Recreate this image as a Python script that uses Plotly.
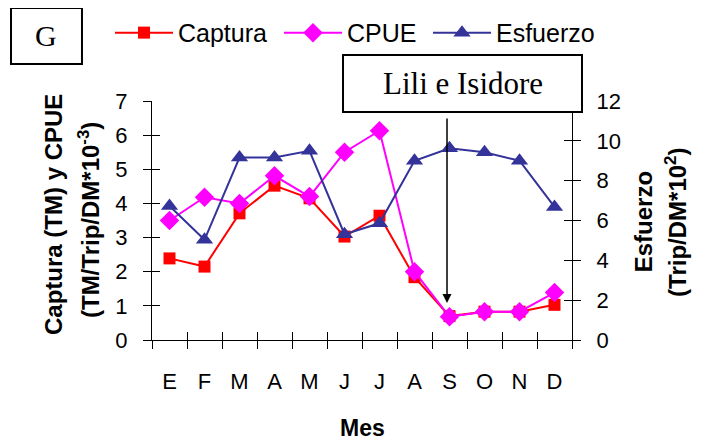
import plotly.graph_objects as go

meses = ["E", "F", "M", "A", "M ", "J", "J ", "A ", "S", "O", "N", "D"]
mes_labels = ["E", "F", "M", "A", "M", "J", "J", "A", "S", "O", "N", "D"]
captura = [2.39, 2.15, 3.71, 4.52, 4.15, 3.03, 3.64, 1.84, 0.70, 0.83, 0.83, 1.03]
cpue = [3.50, 4.18, 4.00, 4.81, 4.20, 5.50, 6.13, 2.00, 0.68, 0.83, 0.83, 1.39]
esfuerzo = [6.73, 5.03, 9.16, 9.16, 9.50, 5.31, 5.86, 9.00, 9.63, 9.43, 9.00, 6.68]

SANS = "Liberation Sans, Arial, sans-serif"
SERIF = "Liberation Serif, Times New Roman, serif"

fig = go.Figure()
fig.add_trace(go.Scatter(x=meses, y=captura, name="Captura", mode="lines+markers",
                         legendwidth=96,
                         line=dict(color="#FF0000", width=2),
                         marker=dict(symbol="square", size=12, color="#FF0000")))
fig.add_trace(go.Scatter(x=meses, y=cpue, name="CPUE", mode="lines+markers",
                         legendwidth=76,
                         line=dict(color="#FF00FF", width=2),
                         marker=dict(symbol="diamond", size=15, color="#FF00FF")))
fig.add_trace(go.Scatter(x=meses, y=esfuerzo, name="Esfuerzo", mode="lines+markers",
                         yaxis="y2",
                         line=dict(color="#333399", width=2),
                         marker=dict(symbol="triangle-up", size=15, color="#333399")))

axis_common = dict(showgrid=False, zeroline=False, showline=True, linecolor="black",
                   linewidth=1, tickcolor="black", ticklen=8, tickwidth=1, automargin=False)

# page body has an 8px margin, so the figure is 8px smaller and offset
fig.update_layout(
    width=704, height=438,
    margin=dict(l=144, r=140, t=93, b=106, autoexpand=False),
    paper_bgcolor="white", plot_bgcolor="white",
    font=dict(family=SANS, color="black", size=22),
    showlegend=True,
    legend=dict(orientation="h", x=-0.1, y=1.285, xanchor="left", yanchor="middle",
                font=dict(family=SANS, size=25), itemwidth=58,
                bgcolor="rgba(0,0,0,0)", traceorder="normal"),
    xaxis=dict(**axis_common, type="category", categoryarray=meses,
               tickvals=meses, ticktext=mes_labels,
               tickson="boundaries", ticks="outside", ticklabelstandoff=22,
               tickfont=dict(size=22), range=[-0.5, 11.5]),
    xaxis2=dict(overlaying="x", type="linear", range=[-0.5, 11.5], tick0=-0.5, dtick=1,
                ticks="inside", ticklen=8, tickcolor="black", showticklabels=False,
                showgrid=False, zeroline=False, showline=False, side="bottom", anchor="y",
                automargin=False),
    yaxis=dict(**axis_common, range=[0, 7], dtick=1, ticks="outside",
               ticklabelstandoff=11, tickfont=dict(size=22)),
    yaxis2=dict(**axis_common, overlaying="y", side="right", range=[0, 12], dtick=2,
                ticks="outside", ticklabelstandoff=11, tickfont=dict(size=22)),
    yaxis3=dict(overlaying="y", side="left", range=[0, 7], dtick=1, ticks="inside",
                ticklen=8, tickcolor="black", showticklabels=False, showgrid=False,
                zeroline=False, showline=False, anchor="x", automargin=False),
    yaxis4=dict(overlaying="y", side="right", range=[0, 12], dtick=2, ticks="inside",
                ticklen=8, tickcolor="black", showticklabels=False, showgrid=False,
                zeroline=False, showline=False, anchor="x", automargin=False),
)

# invisible traces that activate the overlay axes (cross-style ticks)
fig.add_trace(go.Scatter(x=[None], y=[None], xaxis="x2", yaxis="y3", showlegend=False, hoverinfo="skip"))
fig.add_trace(go.Scatter(x=[None], y=[None], xaxis="x", yaxis="y4", showlegend=False, hoverinfo="skip"))

# Boxes
fig.add_shape(type="rect", xref="paper", yref="paper", x0=-0.3357, x1=-0.1667, y0=1.155, y1=1.389,
              line=dict(color="black", width=2), fillcolor="white", layer="above")
fig.add_shape(type="rect", xref="paper", yref="paper", x0=0.4548, x1=1.0238, y0=0.954, y1=1.192,
              line=dict(color="black", width=2), fillcolor="white", layer="above")

annotations = [
    dict(text="G", x=-0.2512, y=1.272, font=dict(family=SERIF, size=30)),
    dict(text="Lili e Isidore", x=0.7393, y=1.073, font=dict(family=SERIF, size=31)),
    dict(text="<b>Captura (TM) y CPUE</b>", x=-0.2357, y=0.523, textangle=-90,
         font=dict(family=SANS, size=24)),
    dict(text="<b>(TM/Trip/DM*10<sup>-3</sup>)</b>", x=-0.1500, y=0.502, textangle=-90,
         font=dict(family=SANS, size=24)),
    dict(text="<b>Esfuerzo</b>", x=1.171, y=0.496, textangle=-90,
         font=dict(family=SANS, size=24)),
    dict(text="<b>(Trip/DM*10<sup>2</sup>)</b>", x=1.2476, y=0.494, textangle=-90,
         font=dict(family=SANS, size=24)),
    dict(text="<b>Mes</b>", x=0.5, y=-0.368, font=dict(family=SANS, size=23)),
]
for a in annotations:
    fig.add_annotation(xref="paper", yref="paper", showarrow=False,
                       xanchor="center", yanchor="middle", **a)

fig.add_annotation(xref="paper", yref="paper", x=0.7024, y=0.1548, text="",
                   showarrow=True, arrowhead=2, arrowsize=1.2, arrowwidth=1.5,
                   arrowcolor="black", ax=0, ay=-186)

fig.write_html("out.html")
